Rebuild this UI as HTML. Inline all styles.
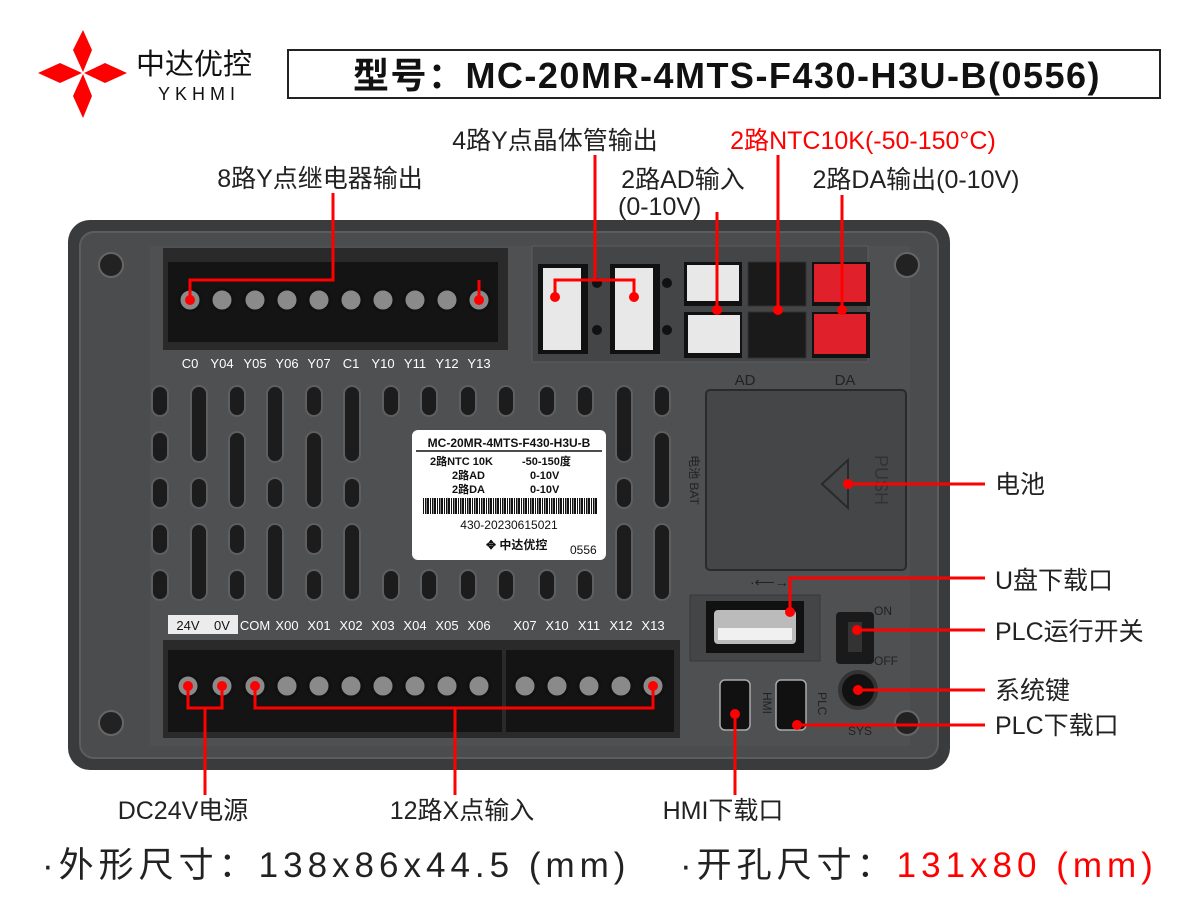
<!DOCTYPE html>
<html><head><meta charset="utf-8"><style>
html,body{margin:0;padding:0;background:#fff;}
svg{display:block;}
text{font-family:"Liberation Sans","Noto Sans CJK SC",sans-serif;}
</style></head><body>
<svg width="1200" height="900" viewBox="0 0 1200 900" xmlns="http://www.w3.org/2000/svg">
<!-- logo -->
<g fill="#f00">
<polygon points="83,30 92,50 83,72 73,50"/>
<polygon points="83,118 92,96 83,74 73,96"/>
<polygon points="38,73 60,63 82,73 60,83"/>
<polygon points="127,73 105,63 84,73 105,83"/>
</g>
<text x="136" y="74" font-size="29" fill="#111">中达优控</text>
<text x="158" y="100" font-size="18" fill="#111" letter-spacing="5">YKHMI</text>
<!-- title -->
<rect x="288" y="50" width="872" height="48" fill="#fff" stroke="#222" stroke-width="2"/>
<text x="727" y="88" font-size="36" font-weight="bold" text-anchor="middle" fill="#111" letter-spacing="1.5">型号：MC-20MR-4MTS-F430-H3U-B(0556)</text>

<!-- device body -->
<rect x="68" y="220" width="882" height="550" rx="22" fill="#3a3b3d"/>
<rect x="80" y="232" width="858" height="526" rx="14" fill="#4b4c4e" stroke="#5c5d5f" stroke-width="2"/>
<rect x="150" y="246" width="760" height="500" fill="#4f5052"/>
<g fill="#222" stroke="#666" stroke-width="2">
<circle cx="111" cy="265" r="12"/><circle cx="907" cy="265" r="12"/>
<circle cx="111" cy="723" r="12"/><circle cx="907" cy="723" r="12"/>
</g>
<!-- top terminal block -->
<rect x="163" y="248" width="345" height="102" fill="#2a2a2b"/>
<rect x="168" y="262" width="330" height="80" fill="#141414"/>
<g fill="#8a8a8a" stroke="#111" stroke-width="3">
<circle cx="190" cy="300" r="11"/><circle cx="222" cy="300" r="11"/><circle cx="255" cy="300" r="11"/><circle cx="287" cy="300" r="11"/><circle cx="319" cy="300" r="11"/><circle cx="351" cy="300" r="11"/><circle cx="383" cy="300" r="11"/><circle cx="415" cy="300" r="11"/><circle cx="447" cy="300" r="11"/><circle cx="479" cy="300" r="11"/>
</g>
<g font-size="13" fill="#fff" text-anchor="middle">
<text x="190" y="368">C0</text><text x="222" y="368">Y04</text><text x="255" y="368">Y05</text><text x="287" y="368">Y06</text><text x="319" y="368">Y07</text><text x="351" y="368">C1</text><text x="383" y="368">Y10</text><text x="415" y="368">Y11</text><text x="447" y="368">Y12</text><text x="479" y="368">Y13</text>
</g>
<!-- connector area -->
<rect x="532" y="246" width="336" height="116" fill="#444547" stroke="#5c5d5f"/>
<rect x="538" y="264" width="50" height="90" fill="#111"/><rect x="543" y="268" width="38" height="82" fill="#e8e8e8"/>
<rect x="610" y="264" width="50" height="90" fill="#111"/><rect x="615" y="268" width="38" height="82" fill="#e8e8e8"/>
<circle cx="597" cy="283" r="5" fill="#111"/><circle cx="597" cy="330" r="5" fill="#111"/>
<circle cx="667" cy="283" r="5" fill="#111"/><circle cx="667" cy="330" r="5" fill="#111"/>
<rect x="684" y="262" width="58" height="44" fill="#111"/><rect x="687" y="265" width="52" height="36" fill="#e8e8e8"/>
<rect x="684" y="312" width="58" height="46" fill="#111"/><rect x="688" y="315" width="52" height="38" fill="#e8e8e8"/>
<rect x="748" y="262" width="58" height="44" fill="#1a1a1a" stroke="#333"/>
<rect x="748" y="312" width="58" height="46" fill="#1a1a1a" stroke="#333"/>
<rect x="812" y="262" width="58" height="44" fill="#111"/><rect x="814" y="264" width="52" height="38" fill="#e0202a"/>
<rect x="812" y="312" width="58" height="46" fill="#111"/><rect x="814" y="314" width="52" height="40" fill="#e0202a"/>
<text x="745" y="385" font-size="15" fill="#222" text-anchor="middle">AD</text>
<text x="845" y="385" font-size="15" fill="#222" text-anchor="middle">DA</text>
<!-- vents -->
<g fill="#1c1c1d" stroke="#5e5f61" stroke-width="2">
<rect x="152" y="386" width="16" height="30" rx="8"/><rect x="152" y="432" width="16" height="30" rx="8"/><rect x="152" y="478" width="16" height="30" rx="8"/><rect x="152" y="524" width="16" height="30" rx="8"/><rect x="152" y="570" width="16" height="30" rx="8"/>
<rect x="191" y="386" width="16" height="76" rx="8"/><rect x="191" y="478" width="16" height="30" rx="8"/><rect x="191" y="524" width="16" height="76" rx="8"/>
<rect x="229" y="386" width="16" height="30" rx="8"/><rect x="229" y="432" width="16" height="76" rx="8"/><rect x="229" y="524" width="16" height="30" rx="8"/><rect x="229" y="570" width="16" height="30" rx="8"/>
<rect x="267" y="386" width="16" height="76" rx="8"/><rect x="267" y="478" width="16" height="30" rx="8"/><rect x="267" y="524" width="16" height="76" rx="8"/>
<rect x="306" y="386" width="16" height="30" rx="8"/><rect x="306" y="432" width="16" height="76" rx="8"/><rect x="306" y="524" width="16" height="30" rx="8"/><rect x="306" y="570" width="16" height="30" rx="8"/>
<rect x="344" y="386" width="16" height="76" rx="8"/><rect x="344" y="478" width="16" height="30" rx="8"/><rect x="344" y="524" width="16" height="76" rx="8"/>
<rect x="383" y="386" width="16" height="30" rx="8"/><rect x="383" y="570" width="16" height="30" rx="8"/>
<rect x="421" y="386" width="16" height="30" rx="8"/><rect x="421" y="570" width="16" height="30" rx="8"/>
<rect x="460" y="386" width="16" height="30" rx="8"/><rect x="460" y="570" width="16" height="30" rx="8"/>
<rect x="498" y="386" width="16" height="30" rx="8"/><rect x="498" y="570" width="16" height="30" rx="8"/>
<rect x="539" y="386" width="16" height="30" rx="8"/><rect x="539" y="570" width="16" height="30" rx="8"/>
<rect x="577" y="386" width="16" height="30" rx="8"/><rect x="577" y="570" width="16" height="30" rx="8"/>
<rect x="616" y="386" width="16" height="76" rx="8"/><rect x="616" y="478" width="16" height="30" rx="8"/><rect x="616" y="524" width="16" height="76" rx="8"/>
<rect x="654" y="386" width="16" height="30" rx="8"/><rect x="654" y="432" width="16" height="76" rx="8"/><rect x="654" y="524" width="16" height="76" rx="8"/>
</g>
<!-- label sticker -->
<rect x="412" y="430" width="194" height="130" rx="6" fill="#fff"/>
<text x="509" y="447" font-size="12" font-weight="bold" text-anchor="middle" fill="#111" font-family="Liberation Mono,monospace">MC-20MR-4MTS-F430-H3U-B</text>
<line x1="416" y1="451" x2="602" y2="451" stroke="#111" stroke-width="1.5"/>
<g font-size="11" font-weight="bold" fill="#111">
<text x="430" y="465">2路NTC 10K</text><text x="522" y="465">-50-150度</text>
<text x="452" y="479">2路AD</text><text x="530" y="479">0-10V</text>
<text x="452" y="493">2路DA</text><text x="530" y="493">0-10V</text>
</g>
<defs><pattern id="bc" width="7" height="16" patternUnits="userSpaceOnUse"><rect x="0" width="2" height="16" fill="#111"/><rect x="3" width="1" height="16" fill="#111"/><rect x="5" width="1.5" height="16" fill="#111"/></pattern></defs>
<rect x="422" y="498" width="176" height="16" fill="url(#bc)"/>
<text x="509" y="529" font-size="12" text-anchor="middle" fill="#111">430-20230615021</text>
<text x="486" y="549" font-size="12" font-weight="bold" fill="#111">✥ 中达优控</text>
<text x="570" y="554" font-size="12" fill="#111">0556</text>
<!-- battery cover -->
<rect x="706" y="390" width="200" height="180" rx="4" fill="#454648" stroke="#2a2a2b" stroke-width="2"/>
<polygon points="848,460 822,484 848,508" fill="none" stroke="#2a2a2b" stroke-width="2"/>
<text x="875" y="480" font-size="18" fill="#333" text-anchor="middle" transform="rotate(90 875 480)">PUSH</text>
<text x="690" y="480" font-size="12" fill="#222" text-anchor="middle" transform="rotate(90 690 480)">电池 BAT</text>
<!-- USB & right bottom -->
<text x="750" y="587" font-size="14" fill="#222">·⟵→</text>
<rect x="690" y="595" width="130" height="66" fill="#444547" stroke="#38393a"/>
<rect x="706" y="601" width="98" height="52" fill="#111"/>
<rect x="714" y="610" width="82" height="34" rx="4" fill="#bbb"/>
<rect x="718" y="628" width="74" height="12" fill="#f0f0f0"/>
<rect x="836" y="612" width="38" height="52" rx="4" fill="#1a1a1a"/>
<rect x="848" y="622" width="14" height="30" fill="#333"/>
<text x="874" y="615" font-size="12" fill="#222">ON</text>
<text x="874" y="665" font-size="12" fill="#222">OFF</text>
<circle cx="858" cy="690" r="18" fill="#111" stroke="#333" stroke-width="4"/>
<text x="848" y="735" font-size="12" fill="#222">SYS</text>
<rect x="720" y="680" width="30" height="50" rx="5" fill="#111" stroke="#aaa" stroke-width="1.5"/>
<rect x="776" y="680" width="30" height="50" rx="5" fill="#111" stroke="#aaa" stroke-width="1.5"/>
<text x="763" y="692" font-size="12" fill="#222" transform="rotate(90 763 692)">HMI</text>
<text x="818" y="692" font-size="12" fill="#222" transform="rotate(90 818 692)">PLC</text>
<!-- bottom terminal block -->
<rect x="168" y="615" width="70" height="19" fill="#ececec"/>
<text x="188" y="630" font-size="13" fill="#111" text-anchor="middle">24V</text>
<text x="222" y="630" font-size="13" fill="#111" text-anchor="middle">0V</text>
<g font-size="13" fill="#fff" text-anchor="middle">
<text x="255" y="630">COM</text><text x="287" y="630">X00</text><text x="319" y="630">X01</text><text x="351" y="630">X02</text><text x="383" y="630">X03</text><text x="415" y="630">X04</text><text x="447" y="630">X05</text><text x="479" y="630">X06</text><text x="525" y="630">X07</text><text x="557" y="630">X10</text><text x="589" y="630">X11</text><text x="621" y="630">X12</text><text x="653" y="630">X13</text>
</g>
<rect x="163" y="640" width="517" height="98" fill="#2a2a2b"/>
<rect x="168" y="650" width="334" height="82" fill="#141414"/>
<rect x="506" y="650" width="168" height="82" fill="#141414"/>
<g fill="#8a8a8a" stroke="#111" stroke-width="3">
<circle cx="188" cy="686" r="11"/><circle cx="222" cy="686" r="11"/><circle cx="255" cy="686" r="11"/><circle cx="287" cy="686" r="11"/><circle cx="319" cy="686" r="11"/><circle cx="351" cy="686" r="11"/><circle cx="383" cy="686" r="11"/><circle cx="415" cy="686" r="11"/><circle cx="447" cy="686" r="11"/><circle cx="479" cy="686" r="11"/><circle cx="525" cy="686" r="11"/><circle cx="557" cy="686" r="11"/><circle cx="589" cy="686" r="11"/><circle cx="621" cy="686" r="11"/><circle cx="653" cy="686" r="11"/>
</g>
<!-- red callouts -->
<g stroke="#f00" stroke-width="3" fill="none">
<polyline points="333,193 333,280 190,280 190,300"/><line x1="479" y1="280" x2="479" y2="300"/>
<polyline points="595,155 595,280 555,280 555,297"/><polyline points="595,280 634,280 634,297"/>
<line x1="717" y1="212" x2="717" y2="310"/>
<line x1="778" y1="155" x2="778" y2="310"/>
<line x1="842" y1="195" x2="842" y2="310"/>
<line x1="848" y1="484" x2="985" y2="484"/>
<polyline points="790,612 790,578 985,578"/>
<line x1="857" y1="630" x2="985" y2="630"/>
<line x1="858" y1="690" x2="985" y2="690"/>
<line x1="797" y1="725" x2="985" y2="725"/>
<line x1="735" y1="714" x2="735" y2="795"/>
<polyline points="188,686 188,708 222,708 222,686"/><line x1="205" y1="708" x2="205" y2="795"/>
<polyline points="255,686 255,708 653,708 653,686"/><line x1="455" y1="708" x2="455" y2="795"/>
</g>
<g fill="#f00">
<circle cx="190" cy="300" r="5"/><circle cx="479" cy="300" r="5"/><circle cx="555" cy="297" r="5"/><circle cx="634" cy="297" r="5"/>
<circle cx="717" cy="310" r="5"/><circle cx="778" cy="310" r="5"/><circle cx="842" cy="310" r="5"/>
<circle cx="848" cy="484" r="5"/><circle cx="790" cy="612" r="5"/><circle cx="857" cy="630" r="5"/><circle cx="858" cy="690" r="5"/><circle cx="797" cy="725" r="5"/><circle cx="735" cy="714" r="5"/>
<circle cx="188" cy="686" r="5"/><circle cx="222" cy="686" r="5"/><circle cx="255" cy="686" r="5"/><circle cx="653" cy="686" r="5"/>
</g>
<!-- labels -->
<g font-size="25" fill="#222">
<text x="320" y="187" text-anchor="middle">8路Y点继电器输出</text>
<text x="555" y="149" text-anchor="middle">4路Y点晶体管输出</text>
<text x="863" y="149" text-anchor="middle" fill="#f00">2路NTC10K(-50-150°C)</text>
<text x="683" y="188" text-anchor="middle">2路AD输入</text>
<text x="618" y="215">(0-10V)</text>
<text x="916" y="188" text-anchor="middle">2路DA输出(0-10V)</text>
<text x="995" y="493">电池</text>
<text x="995" y="589">U盘下载口</text>
<text x="995" y="640">PLC运行开关</text>
<text x="995" y="699">系统键</text>
<text x="995" y="734">PLC下载口</text>
<text x="183" y="819" text-anchor="middle">DC24V电源</text>
<text x="462" y="819" text-anchor="middle">12路X点输入</text>
<text x="723" y="819" text-anchor="middle">HMI下载口</text>
</g>
<text x="42" y="877" font-size="35" fill="#222" letter-spacing="5">·外形尺寸：138x86x44.5 (mm)</text>
<text x="680" y="877" font-size="35" fill="#222" letter-spacing="5">·开孔尺寸：<tspan fill="#f00">131x80 (mm)</tspan></text>
</svg>
</body></html>
